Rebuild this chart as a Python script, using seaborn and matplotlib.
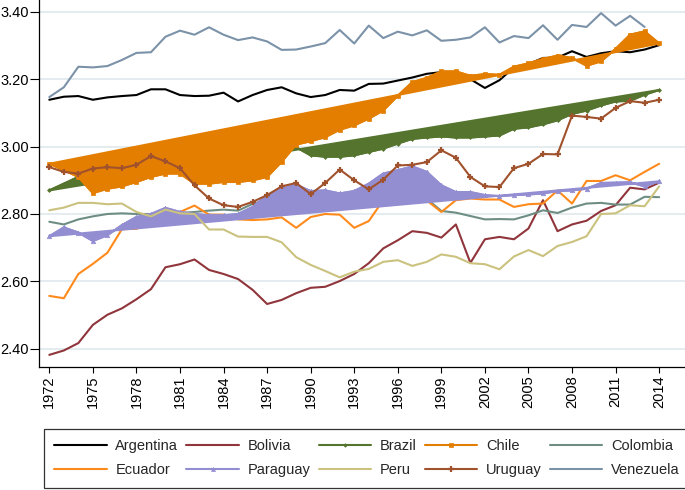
import numpy as np
import pandas as pd
import matplotlib
matplotlib.use("Agg")
import matplotlib.pyplot as plt
from matplotlib.lines import Line2D
import seaborn as sns

years = list(range(1972, 2015))

argentina = [3.139, 3.148, 3.150, 3.139, 3.146, 3.150, 3.153, 3.170, 3.170, 3.153,
             3.150, 3.151, 3.160, 3.134, 3.153, 3.168, 3.176, 3.158, 3.147, 3.153,
             3.168, 3.166, 3.186, 3.187, 3.196, 3.205, 3.216, 3.221, 3.211, 3.200,
             3.174, 3.197, 3.235, 3.245, 3.263, 3.264, 3.283, 3.266, 3.277, 3.283,
             3.280, 3.288, 3.301]
bolivia = [2.382, 2.395, 2.417, 2.471, 2.501, 2.520, 2.547, 2.577, 2.642, 2.651,
           2.665, 2.634, 2.622, 2.607, 2.575, 2.533, 2.545, 2.565, 2.581, 2.584,
           2.601, 2.622, 2.654, 2.698, 2.722, 2.749, 2.744, 2.730, 2.769, 2.655,
           2.725, 2.732, 2.725, 2.757, 2.841, 2.749, 2.769, 2.780, 2.809, 2.826,
           2.878, 2.873, 2.893]
brazil = [2.870, 2.890, 2.910, 2.930, 2.940, 2.950, 2.960, 2.970, 2.980, 2.980,
          2.970, 2.970, 2.980, 2.970, 2.980, 2.990, 3.000, 2.998, 2.974, 2.970,
          2.970, 2.974, 2.984, 2.994, 3.009, 3.023, 3.027, 3.030, 3.027, 3.027,
          3.030, 3.033, 3.053, 3.057, 3.066, 3.078, 3.097, 3.107, 3.122, 3.134,
          3.136, 3.154, 3.168]
chile = [2.949, 2.930, 2.910, 2.862, 2.875, 2.882, 2.895, 2.910, 2.920, 2.920,
         2.890, 2.890, 2.895, 2.895, 2.900, 2.910, 2.955, 3.006, 3.016, 3.028,
         3.050, 3.063, 3.083, 3.107, 3.151, 3.191, 3.204, 3.223, 3.223, 3.210,
         3.215, 3.213, 3.237, 3.247, 3.260, 3.270, 3.263, 3.240, 3.253, 3.290,
         3.332, 3.342, 3.306]
colombia = [2.777, 2.769, 2.784, 2.793, 2.800, 2.802, 2.800, 2.800, 2.800, 2.803,
            2.806, 2.810, 2.813, 2.810, 2.830, 2.843, 2.850, 2.855, 2.855, 2.855,
            2.855, 2.855, 2.860, 2.860, 2.860, 2.855, 2.845, 2.809, 2.804, 2.794,
            2.784, 2.785, 2.784, 2.796, 2.811, 2.803, 2.819, 2.831, 2.833, 2.828,
            2.828, 2.851, 2.850]
ecuador = [2.557, 2.550, 2.622, 2.652, 2.685, 2.755, 2.756, 2.772, 2.791, 2.806,
           2.825, 2.798, 2.798, 2.784, 2.782, 2.784, 2.790, 2.759, 2.791, 2.800,
           2.798, 2.759, 2.779, 2.841, 2.850, 2.850, 2.840, 2.806, 2.841, 2.846,
           2.843, 2.843, 2.821, 2.829, 2.831, 2.870, 2.831, 2.898, 2.898, 2.915,
           2.900, 2.925, 2.949]
paraguay = [2.734, 2.760, 2.745, 2.720, 2.737, 2.767, 2.791, 2.800, 2.818, 2.806,
            2.800, 2.796, 2.796, 2.800, 2.821, 2.856, 2.875, 2.887, 2.868, 2.870,
            2.861, 2.868, 2.890, 2.920, 2.930, 2.941, 2.925, 2.885, 2.865, 2.865,
            2.856, 2.853, 2.856, 2.858, 2.861, 2.868, 2.870, 2.875, 2.892, 2.893,
            2.894, 2.882, 2.897]
peru = [2.811, 2.819, 2.833, 2.833, 2.829, 2.831, 2.806, 2.793, 2.813, 2.802,
        2.800, 2.754, 2.754, 2.733, 2.732, 2.732, 2.716, 2.672, 2.649, 2.631,
        2.612, 2.629, 2.637, 2.658, 2.663, 2.646, 2.658, 2.680, 2.673, 2.654,
        2.651, 2.636, 2.674, 2.693, 2.675, 2.705, 2.717, 2.734, 2.800, 2.802,
        2.826, 2.823, 2.882]
uruguay = [2.939, 2.925, 2.920, 2.935, 2.939, 2.936, 2.946, 2.972, 2.956, 2.936,
           2.885, 2.846, 2.826, 2.821, 2.836, 2.856, 2.882, 2.892, 2.859, 2.892,
           2.932, 2.900, 2.873, 2.902, 2.944, 2.946, 2.954, 2.989, 2.967, 2.910,
           2.882, 2.880, 2.936, 2.949, 2.978, 2.977, 3.092, 3.088, 3.083, 3.115,
           3.135, 3.130, 3.139]
venezuela = [3.147, 3.176, 3.237, 3.235, 3.239, 3.257, 3.278, 3.280, 3.326, 3.344,
             3.332, 3.354, 3.332, 3.316, 3.324, 3.312, 3.287, 3.288, 3.297, 3.307,
             3.346, 3.306, 3.359, 3.322, 3.341, 3.330, 3.345, 3.314, 3.317, 3.324,
             3.354, 3.309, 3.328, 3.322, 3.360, 3.317, 3.361, 3.355, 3.396, 3.359,
             3.388, 3.355, np.nan]

countries = ["Argentina", "Bolivia", "Brazil", "Chile", "Colombia",
             "Ecuador", "Paraguay", "Peru", "Uruguay", "Venezuela"]
values = [argentina, bolivia, brazil, chile, colombia,
          ecuador, paraguay, peru, uruguay, venezuela]
colors = ["#000000", "#90353B", "#55752F", "#E37E00", "#6E8E84",
          "#FF8A1C", "#938DD2", "#CAC27E", "#A0522D", "#7B92A8"]
filled = {"Brazil", "Chile", "Paraguay"}
markers = {"Brazil": ("D", 2.0, 0.5), "Chile": ("s", 2.6, 0.5),
           "Paraguay": ("^", 3.2, 0.5), "Uruguay": ("+", 5.0, 1.6)}

tick_years = list(range(1972, 2015, 3))
y_ticks = [2.40, 2.60, 2.80, 3.00, 3.20, 3.40]

sns.set_style("white")
plt.rcParams["font.family"] = ["Liberation Sans", "DejaVu Sans"]

fig = plt.figure(figsize=(6.85, 4.9), dpi=100)
ax = fig.add_axes([39 / 685, 1 - 367 / 490, 1 - 39 / 685, 367 / 490])

lw = 1.5
for i, (name, vals, col) in enumerate(zip(countries, values, colors)):
    df = pd.DataFrame({"year": years, "val": vals}).dropna()
    z = 3 + i * 0.1
    if name in filled:
        ax.fill(df["year"].to_numpy(), df["val"].to_numpy(), facecolor=col,
                edgecolor=col, linewidth=lw, zorder=z)
    if name in markers:
        m, ms, mew = markers[name]
        sns.lineplot(data=df, x="year", y="val", ax=ax, color=col, linewidth=lw,
                     marker=m, markersize=ms, markeredgewidth=mew,
                     markeredgecolor=col, zorder=z + 0.01, estimator=None)
    else:
        sns.lineplot(data=df, x="year", y="val", ax=ax, color=col, linewidth=lw,
                     zorder=z, estimator=None)

ax.set_xlim(1971.29, 2015.78)
ax.set_ylim(2.346, 3.435)
ax.set_xticks(tick_years)
ax.set_xticklabels([str(y) for y in tick_years], rotation=90)
ax.set_yticks(y_ticks)
ax.set_yticklabels([f"{v:.2f}" for v in y_ticks])
ax.set_xlabel("")
ax.set_ylabel("")
ax.yaxis.grid(True, color="#e2ebee", linewidth=1.3)
ax.xaxis.grid(False)
ax.set_axisbelow(True)
for s in ["top", "right"]:
    ax.spines[s].set_visible(False)
for s in ["left", "bottom"]:
    ax.spines[s].set_color("black")
    ax.spines[s].set_linewidth(0.9)
ax.tick_params(axis="y", length=6.5, width=0.8, pad=0.8, labelsize=10.5,
               colors="black", left=True)
ax.tick_params(axis="x", length=4.3, width=0.8, pad=1.5, labelsize=10.5,
               colors="black", bottom=True)

handles = {}
for name, col in zip(countries, colors):
    if name in markers:
        m, ms, mew = markers[name]
        handles[name] = Line2D([], [], color=col, linewidth=lw, marker=m,
                               markersize=ms * 0.9, markeredgewidth=mew,
                               markeredgecolor=col)
    else:
        handles[name] = Line2D([], [], color=col, linewidth=lw)

# legend fills column-wise; reorder so the entries read row-wise
order = [countries[r * 5 + c] for c in range(5) for r in range(2)]

leg = fig.legend([handles[n] for n in order], order, loc="upper left",
                 bbox_to_anchor=(44 / 685, 1 - 429 / 490), ncol=5,
                 frameon=True, fancybox=False, edgecolor="black",
                 fontsize=10.5, handlelength=3.6, handletextpad=0.6,
                 columnspacing=0.55, borderpad=0.7, labelspacing=0.7,
                 numpoints=1, borderaxespad=0)
leg.get_frame().set_linewidth(0.9)

fig.savefig("out.png", dpi=100, facecolor="white")
